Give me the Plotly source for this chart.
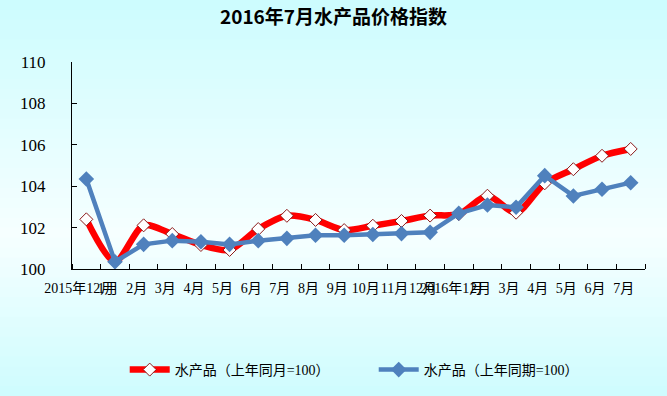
import plotly.graph_objects as go

categories = ["2015年12月", "1月", "2月", "3月", "4月", "5月", "6月", "7月", "8月", "9月",
              "10月", "11月", "12月", "2016年1月", "2月", "3月", "4月", "5月", "6月", "7月"]
tick_labels = categories
same_month = [102.40, 100.35, 102.11, 101.69, 101.16, 100.92, 101.93, 102.57, 102.37, 101.88,
              102.09, 102.32, 102.58, 102.65, 103.54, 102.72, 104.14, 104.82, 105.47, 105.80]
same_period = [104.35, 100.35, 101.19, 101.37, 101.32, 101.19, 101.37, 101.48, 101.63, 101.63,
               101.67, 101.71, 101.77, 102.69, 103.09, 102.98, 104.51, 103.53, 103.85, 104.17]
y_ticks = [100, 102, 104, 106, 108, 110]

name_red = "水产品（上年同月=100）"
name_blue = "水产品（上年同期=100）"

x = list(range(len(categories)))

fig = go.Figure()
fig.add_trace(go.Scatter(
    x=x, y=same_month, name=name_red, mode="lines+markers",
    line=dict(color="#FF0000", width=6.5, shape="spline", smoothing=0.8),
    marker=dict(symbol="diamond", size=10, color="white", line=dict(color="#8B1A1A", width=1)),
))
fig.add_trace(go.Scatter(
    x=x, y=same_period, name=name_blue, mode="lines+markers",
    line=dict(color="#4F81BD", width=4.5),
    marker=dict(symbol="diamond", size=12, color="#4F81BD"),
))

# background gradient bands (paper coords)
W, H = 667, 396
L, R, T, B = 72, 22, 62, 127
pw, ph = W - L - R, H - T - B
def py2paper(py):
    return (H - B - py) / ph
top = (204, 252, 254)
mid = (246, 255, 255)
bot = (206, 252, 254)
mid_py = 235
shapes = []
n = 40
for i in range(n):
    y0 = H * i / n
    y1 = H * (i + 1) / n + 1
    c = (y0 + y1) / 2
    if c < mid_py:
        t = c / mid_py
        col = tuple(round(top[k] + (mid[k] - top[k]) * t) for k in range(3))
    else:
        t = (c - mid_py) / (H - mid_py)
        col = tuple(round(mid[k] + (bot[k] - mid[k]) * t) for k in range(3))
    shapes.append(dict(type="rect", xref="paper", yref="paper", layer="below",
                       x0=-L / pw - 0.01, x1=1 + R / pw + 0.01,
                       y0=py2paper(y1), y1=py2paper(y0),
                       fillcolor="rgb(%d,%d,%d)" % col, line=dict(width=0)))

fig.update_layout(
    width=W, height=H,
    margin=dict(l=L, r=R, t=T, b=B, autoexpand=False),
    paper_bgcolor="rgb(206,252,254)",
    plot_bgcolor="rgba(0,0,0,0)",
    shapes=shapes,
    title=dict(text="<b>2016年7月水产品价格指数</b>", x=0.5, xref="container", xanchor="center",
               y=1 - 17 / H, yref="container", yanchor="middle",
               font=dict(family="Noto Sans CJK SC", size=19, color="#000")),
    font=dict(family="Liberation Serif, Noto Sans CJK SC", color="#000"),
    showlegend=True,
    legend=dict(orientation="h", x=0.092, xanchor="left", y=py2paper(370), yanchor="middle",
                font=dict(family="Liberation Serif, Noto Sans CJK SC", size=14),
                entrywidth=194, entrywidthmode="pixels", bgcolor="rgba(0,0,0,0)",
                itemwidth=40),
    xaxis=dict(
        range=[-0.5, len(categories) - 0.5], automargin=False,
        tickmode="array", tickvals=x, ticktext=tick_labels, tickangle=0,
        showline=True, linecolor="#000", linewidth=1,
        ticks="", showgrid=False, zeroline=False,
        tickfont=dict(size=14, family="Liberation Serif, Noto Sans CJK SC"),
        ticklabelstandoff=6, ticklabelshift=-7,
    ),
    yaxis=dict(
        range=[100, 110], tickvals=y_ticks, automargin=False,
        showline=True, linecolor="#000", linewidth=1,
        ticks="inside", ticklen=5, tickcolor="#000",
        showgrid=False, zeroline=False,
        tickfont=dict(size=17, family="Liberation Serif"),
        ticklabelstandoff=22,
    ),
)

fig.update_xaxes(minor=dict(tickmode="array", tickvals=[i - 0.5 for i in range(len(categories) + 1)],
                            ticks="inside", ticklen=5, tickcolor="#000", showgrid=False))

fig.write_html("out.html",
               config={"displayModeBar": False},
               post_script="document.body.style.margin='0';document.body.style.padding='0';"
                           "document.body.style.background='rgb(206,252,254)';")
